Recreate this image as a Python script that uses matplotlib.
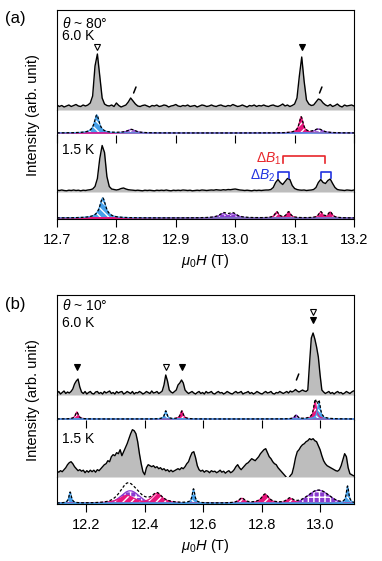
import numpy as np
import matplotlib
matplotlib.use("Agg")
import matplotlib.pyplot as plt

plt.rcParams['font.family'] = ['Liberation Sans', 'DejaVu Sans']
plt.rcParams['mathtext.fontset'] = 'custom'
plt.rcParams['mathtext.rm'] = 'Liberation Sans'
plt.rcParams['mathtext.it'] = 'Liberation Sans:italic'
plt.rcParams['hatch.linewidth'] = 1.0

BLUE, PINK, PURPLE = '#45a0ea', '#e8157d', '#8a3ad0'

# ---- panel (a): theta ~ 80 deg, field grid 12.700 + 0.004*i ----
a_start, a_step = 12.700, 0.004
a_6K = [1, -0.5, 0.5, -1, 0, 1, -0.5, 0.5, 1.5, 0,
        -0.5, 1, 0, 1, 3, 10, 40, 52, 30, 8,
        2, 0.5, 0, 1, -0.5, 3, 0.5, -1, 0, 1,
        4, 8, 5, 2, 0, -0.5, 0.5, 1, 0, -1,
        0.5, 0, 1, -0.5, 0, 1, 0.5, -1, 0, 0.5,
        1.5, 0, -0.5, 0.5, 0, 1, -0.5, 0, 0.5, -1,
        0, 1, 0.5, -0.5, 0, 1, 0, -0.5, 0.5, 1,
        0, -0.5, 0.5, 0, 1.5, 0.5, -0.5, 0, 1, 0,
        -1, 0.5, 0, 1, -0.5, 0.5, 0, 1, 0, -0.5,
        0.5, 1, 0, -0.5, 0.5, 2, 0, 1, -0.5, 0.5,
        2, 8, 30, 49, 25, 6, 2, 0.5, 1, 4,
        7, 6, 3, 1, 0, 1.5, -0.5, 0.5, 2, 0,
        -1, 1, 0, 0.5, 1, 0]
a_15K = [0.3, 0, 0.5, 0, -0.3, 0.3, 0, 0.5, 0, 0.3,
         -0.3, 0.3, 0, 0.5, 0.8, 1.5, 4, 12, 32, 45,
         38, 14, 4, 1.5, 1, 0.5, 1, 2, 2.5, 1.5,
         0.8, 0.5, 0.3, 0, 0.3, 0, -0.3, 0.3, 0, 0.3,
         0, -0.3, 0.3, 0, 0.3, 0, 0.5, 0, -0.3, 0.3,
         0, 0.3, 0, 0.5, 0.3, 0, 0.3, -0.3, 0, 0.3,
         0, 0.5, 0.3, 0, 0.3, 0.5, 0.3, 0.8, 0.5, 0.3,
         0.8, 0.5, 1, 0.8, 1.2, 1.5, 1, 0.5, 0.3, 0,
         0.3, 0, -0.3, 0.3, 0, 0.3, 0, 0.3, 0.5, 0.5,
         1, 3, 8, 11, 8, 6, 9, 12, 11, 5,
         2, 1, 0.5, 0.3, 0.5, 0, 0.3, 0.5, 1, 3,
         8, 11, 8, 7, 10, 11.5, 7, 3, 1, 0.5,
         0.3, 0, 0.5, 0.3, 0, 0.5]
# fit components: (colour, centre, half width, height, shape)
a_fit_6K = [(PURPLE, 12.825, 0.008, 3.5, 'L'), (PURPLE, 13.140, 0.008, 4, 'L'),
            (PINK, 13.111, 0.004, 16, 'L'), (BLUE, 12.767, 0.005, 18, 'L')]
a_fit_15K = [(PURPLE, 12.980, 0.008, 4.5, 'L'), (PURPLE, 12.996, 0.008, 4.5, 'L'),
             (PINK, 13.070, 0.004, 6, 'L'), (PINK, 13.090, 0.004, 6, 'L'),
             (PINK, 13.144, 0.004, 6, 'L'), (PINK, 13.160, 0.004, 6, 'L'),
             (BLUE, 12.777, 0.006, 20, 'L')]

# ---- panel (b): theta ~ 10 deg, field grid 12.100 + 0.006*i ----
b_start, b_step = 12.100, 0.006
b_6K = [0, 1.5, -1, 0.5, 2, -0.5, 1, 0, 1.5, 4,
        9, 12, 14, 6, 1, -0.5, 1.5, -1, 0.5, 1.5,
        -0.5, -1, 1, 1.5, -0.5, 0.5, -1, 1.5, 0, 1,
        2, -0.5, 0.5, -1, 1.5, 0, 1, 1.5, -1, 0,
        1.5, 0.5, -0.5, 1.5, -1, 0.5, 0, 1.5, 0.5, -1,
        0, 1.5, 0.5, -0.5, 2, 0, 0.5, 1.5, -0.5, 0.5,
        2, 8, 18, 12, 3, 1, 0, 1.5, 3, 8,
        10, 13, 10, 3, 1, -0.5, 0.5, 1.5, 0, -1,
        0.5, 1.5, -0.5, 0.5, -1, 1.5, 0, 0.5, 1.5, -0.5,
        -1, 0.5, 1.5, 0, 0.5, -1, 0, 1.5, 0.5, -0.5,
        -1, 0.5, 1.5, 0, 0.5, 1.5, -1, 0, 0.5, 1.5,
        -0.5, 0.5, -1, 0, 1.5, 0.5, -0.5, -1, 0.5, 1.5,
        0, 0.5, 1.5, -0.5, -1, 0.5, 0, 1.5, 0.5, -0.5,
        0.5, 1.5, 0, 2, 1, 2, 3.5, 2, 1, 2,
        3, 2, 1.5, 3, 30, 55, 60, 54, 46, 36,
        18, 3, 1, -0.5, 0.5, 1.5, -0.5, 0.5, -1, 0.5,
        1.5, 0, 0.5, -1, 0, 1.5, 0.5, -0.5, 1, 2]
b_15K = [0.5, -0.5, 1, 0, 2, 4, 7, 9, 10, 8,
         5, 3, 1, 2, 0.5, 1.5, -1, 1, -0.5, 1.5,
         0, 1.5, -0.5, 2, 1, 3, 5, 7, 8, 11,
         10, 15, 17, 16, 19, 18, 22, 16, 20, 24,
         28, 33, 38, 42, 41, 38, 30, 18, 8, 0,
         -3, 4, 7, 6, 5, 6, 4, 5, 3, 4,
         2, 3, 1, 2, 0, 1.5, 0, 1, 2, 3,
         2, 4, 3, 5, 8, 10, 15, 19, 20, 14,
         6, 2, 0.5, 1.5, -0.5, 1, 0.5, -1, 1, 0,
         0.5, -1, 0, 1.5, -0.5, 0.5, -1.5, 0, 1, -1,
         0, 2, 5, 7, 4, 2, 4, 6, 8, 9,
         11, 13, 12, 11, 13, 15, 18, 20, 22, 23,
         19, 15, 13, 10, 8, 7, 4, 2, 0, -2,
         -4, -6, -7, -4, -2, 5, 14, 20, 22, 25,
         27, 28, 30, 31, 33, 32, 33, 31, 30, 26,
         22, 16, 11, 8, 6, 5, 4, 3, 2, 1,
         0.5, 2, 6, 12, 18, 15, 4, -2, -3, -4]
b_fit_6K = [(PURPLE, 12.918, 0.006, 4, 'L'),
            (PINK, 12.168, 0.006, 7, 'L'), (PINK, 12.527, 0.006, 8, 'L'),
            (PINK, 12.983, 0.006, 17, 'L'),
            (BLUE, 12.472, 0.005, 8, 'L'), (BLUE, 12.996, 0.006, 16, 'L')]
b_fit_15K = [(PURPLE, 12.350, 0.030, 12.5, 'G'), (PURPLE, 12.995, 0.035, 13, 'G'),
             (PINK, 12.339, 0.030, 8, 'L'), (PINK, 12.442, 0.022, 10, 'L'),
             (PINK, 12.732, 0.012, 5, 'L'), (PINK, 12.812, 0.015, 9, 'L'),
             (PINK, 12.897, 0.014, 5, 'L'),
             (BLUE, 12.145, 0.005, 11, 'L'), (BLUE, 12.567, 0.005, 14, 'L'),
             (BLUE, 13.094, 0.005, 17, 'L')]

HATCH = {BLUE: '\\\\\\\\', PINK: '////', PURPLE: '+++'}
W, H = 382, 561
L, R = 57, 354

fig = plt.figure(figsize=(W / 100, H / 100), dpi=100)


def px_axes(top, bottom):
    return fig.add_axes([L / W, 1 - bottom / H, (R - L) / W, (bottom - top) / H])


def component(x, c, w, h, shape):
    if shape == 'G':
        return h * np.exp(-0.5 * ((x - c) / w) ** 2)
    return h / (1 + ((x - c) / w) ** 2)


def draw_trace(ax, x, y, ylim):
    ax.fill_between(x, y, ylim[0], color='#bdbdbd', linewidth=0)
    ax.plot(x, y, color='black', lw=1.0)
    ax.set_ylim(ylim)


def draw_fit(ax, xlim, comps, ylim):
    x = np.linspace(xlim[0], xlim[1], 3000)
    total = np.zeros_like(x)
    for col, c, w, h, shape in comps:
        y = component(x, c, w, h, shape)
        total += y
        ax.fill_between(x, 0, y, facecolor=col, edgecolor='white',
                        hatch=HATCH[col], linewidth=0)
        ax.plot(x, y, color=col, lw=0.9)
    ax.plot(x, total, color='black', lw=0.9, ls=(0, (2.2, 1.6)))
    ax.set_ylim(ylim)


def style(axes, xlim, ticks, labels):
    for k, ax in enumerate(axes):
        ax.set_xlim(xlim)
        ax.set_yticks([])
        ax.set_facecolor('none')
        for s in ax.spines.values():
            s.set_linewidth(0.8)
        ax.spines['top'].set_visible(k == 0)
        ax.spines['bottom'].set_visible(k == len(axes) - 1)
        ax.set_xticks(ticks)
        ax.tick_params(axis='x', bottom=False, labelbottom=False, length=6, width=0.8)
    axes[2].tick_params(axis='x', top=True, direction='in')
    axes[3].tick_params(axis='x', bottom=True, labelbottom=True, direction='out',
                        labelsize=10.5, pad=4)
    axes[3].set_xticklabels(labels)
    axes[3].set_xlabel(r"$\mu_0H$ (T)", fontsize=10.5, labelpad=4)


def tri(ax, x, y, filled):
    ax.plot([x], [y], marker='v', ms=5, mec='black', mew=0.8,
            mfc='black' if filled else 'white', ls='none')


def slash(ax, x, y, dx):
    ax.plot([x - dx / 2, x + dx / 2], [y - 3, y + 3], color='black', lw=1.1,
            solid_capstyle='round')


# ---------------- panel (a) ----------------
a_x = a_start + a_step * np.arange(len(a_6K))
a_xlim = (12.7, 13.2)
a1, a2, a3, a4 = px_axes(10, 110), px_axes(110, 135), px_axes(135, 192), px_axes(192, 219)
draw_trace(a1, a_x, a_6K, (-4, 96))
draw_fit(a2, a_xlim, a_fit_6K, (-2, 23))
draw_trace(a3, a_x, a_15K, (-1.5, 55.5))
draw_fit(a4, a_xlim, a_fit_15K, (-1, 26))
style([a1, a2, a3, a4], a_xlim, [12.7, 12.8, 12.9, 13.0, 13.1, 13.2],
      ['12.7', '12.8', '12.9', '13.0', '13.1', '13.2'])

a1.text(12.709, 83, r"$\theta$ ~ 80°", fontsize=10, va='center')
a1.text(12.709, 70, "6.0 K", fontsize=10, va='center')
a3.text(12.709, 41, "1.5 K", fontsize=10, va='center')
tri(a1, 12.767, 59, False)
tri(a1, 13.112, 59, True)
slash(a1, 12.831, 16, 0.004)
slash(a1, 13.144, 16, 0.004)

# Delta B brackets
a3.plot([13.080, 13.080, 13.152, 13.152], [27.5, 34.5, 34.5, 27.5], color='#e8262b', lw=1.2)
for x0, x1 in [(13.072, 13.090), (13.145, 13.161)]:
    a3.plot([x0, x0, x1, x1], [12.5, 18.5, 18.5, 12.5], color='#2233e0', lw=1.2)
a3.text(13.078, 31.5, r"$\Delta B_1$", color='#e8262b', fontsize=10, ha='right', va='center')
a3.text(13.068, 14.5, r"$\Delta B_2$", color='#2233e0', fontsize=10, ha='right', va='center')

# ---------------- panel (b) ----------------
b_x = b_start + b_step * np.arange(len(b_6K))
b_xlim = (12.1, 13.116)
b1, b2, b3, b4 = px_axes(295, 395), px_axes(395, 420), px_axes(420, 477), px_axes(477, 504)
draw_trace(b1, b_x, b_6K, (-2, 98))
draw_fit(b2, b_xlim, b_fit_6K, (-1, 24))
draw_trace(b3, b_x, b_15K, (-5.3, 51.7))
draw_fit(b4, b_xlim, b_fit_15K, (-0.7, 26.3))
style([b1, b2, b3, b4], b_xlim, [12.2, 12.4, 12.6, 12.8, 13.0],
      ['12.2', '12.4', '12.6', '12.8', '13.0'])

b1.text(12.118, 88, r"$\theta$ ~ 10°", fontsize=10, va='center')
b1.text(12.118, 70, "6.0 K", fontsize=10, va='center')
b3.text(12.118, 33, "1.5 K", fontsize=10, va='center')
tri(b1, 12.168, 26, True)
tri(b1, 12.472, 26, False)
tri(b1, 12.527, 26, True)
tri(b1, 12.975, 81, False)
tri(b1, 12.975, 73, True)
slash(b1, 12.923, 16, 0.008)

fig.text(5 / W, 1 - 18 / H, "(a)", fontsize=12, va='center')
fig.text(5 / W, 1 - 305 / H, "(b)", fontsize=12, va='center')
fig.text(33 / W, 1 - 115 / H, "Intensity (arb. unit)", fontsize=10.5, rotation=90,
         ha='center', va='center')
fig.text(33 / W, 1 - 400 / H, "Intensity (arb. unit)", fontsize=10.5, rotation=90,
         ha='center', va='center')

fig.savefig("out.png", dpi=100)
